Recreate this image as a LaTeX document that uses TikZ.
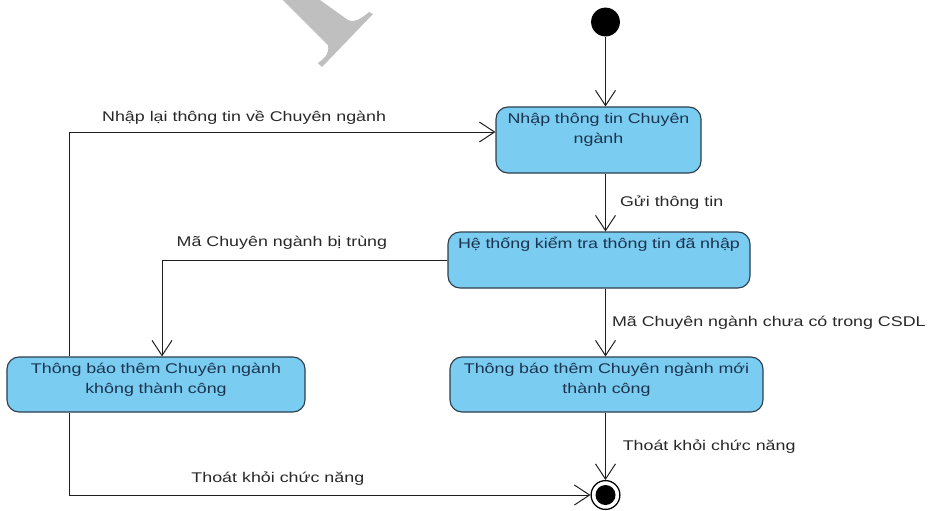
\documentclass[tikz,border=0pt]{standalone}
\usepackage{fontspec}
\setmainfont{Liberation Sans}[FakeStretch=1.27]
\usetikzlibrary{arrows.meta,positioning}
\definecolor{statefill}{RGB}{122,204,240}
\definecolor{stateline}{RGB}{45,62,78}
\definecolor{statetext}{RGB}{28,52,80}
\definecolor{flowline}{RGB}{30,30,30}
\definecolor{guardtext}{RGB}{40,40,40}
\tikzset{
    state/.style={draw=stateline,fill=statefill,rounded corners=0.3cm,line width=0.8pt,align=center,text=statetext,inner xsep=0pt,inner ysep=0.1cm,text height=0.32cm},
    initdot/.style={circle,fill=black,minimum size=0.72cm,inner sep=0pt},
    finaldot/.style={circle,draw=black,fill=white,line width=0.9pt,minimum size=0.72cm,inner sep=0pt,
        path picture={\fill[black] (path picture bounding box.center) circle (0.25cm);}},
    arrow/.style={-{Straight Barb[length=0.38cm,width=0.5cm]},line width=0.7pt,draw=flowline},
    guard/.style={text=guardtext,inner sep=2pt}
}

\begin{document}
\begin{tikzpicture}[every node/.style={font=\fontsize{10pt}{14pt}\selectfont}]
    \useasboundingbox (0,0) rectangle (23.2,-12.75);
    % grey stroke in the top left corner
    \fill[black!25] (7.075,0) -- (8.2,-1.125) .. controls (8.25,-1.375) and (8.05,-1.5) .. (7.95,-1.575)
        -- (8.05,-1.675) -- (9.325,-0.35) -- (9.225,-0.3) .. controls (9.05,-0.45) and (8.875,-0.575) .. (8.7,-0.5)
        -- (8.0,0) -- cycle;

    % states
    \node[initdot] (init) at (15.1375,-0.55) {};
    \node[state,text width=5.125cm,text depth=1.13cm] (enter) at (14.9625,-3.5) {Nhập thông tin Chuyên\\ngành};
    \node[state,text width=7.55cm,text depth=0.88cm] (check) at (14.975,-6.5) {Hệ thống kiểm tra thông tin đã nhập};
    \node[state,text width=7.45cm,text depth=0.855cm] (fail) at (3.9,-9.6125) {Thông báo thêm Chuyên ngành\\không thành công};
    \node[state,text width=7.825cm,text depth=0.855cm] (ok) at (15.1625,-9.6125) {Thông báo thêm Chuyên ngành mới\\thành công};
    \node[finaldot] (final) at (15.1375,-12.375) {};

    % transitions
    \draw[arrow] (init) -- (init |- enter.north);
    \draw[arrow] (enter.south -| init) -- node[guard,right=0.28cm] {Gửi thông tin} (check.north -| init);
    \draw[arrow] (check.south -| init) -- node[guard,right=0.08cm] {Mã Chuyên ngành chưa có trong CSDL} (ok.north -| init);
    \draw[arrow] (ok.south -| init) -- node[guard,right=0.35cm] {Thoát khỏi chức năng} (final.north);
    \draw[arrow] (check.west) -| node[guard,pos=0.29,above=0.18cm] {Mã Chuyên ngành bị trùng} ([xshift=0.15cm]fail.north);
    \draw[arrow] ([xshift=1.575cm]fail.north west) |- node[guard,pos=0.705,above=0.1cm] {Nhập lại thông tin về Chuyên ngành} ([yshift=0.2cm]enter.west);
    \draw[arrow] ([xshift=1.575cm]fail.south west) |- node[guard,pos=0.70,above=0.15cm] {Thoát khỏi chức năng} (final.west);
\end{tikzpicture}
\end{document}
